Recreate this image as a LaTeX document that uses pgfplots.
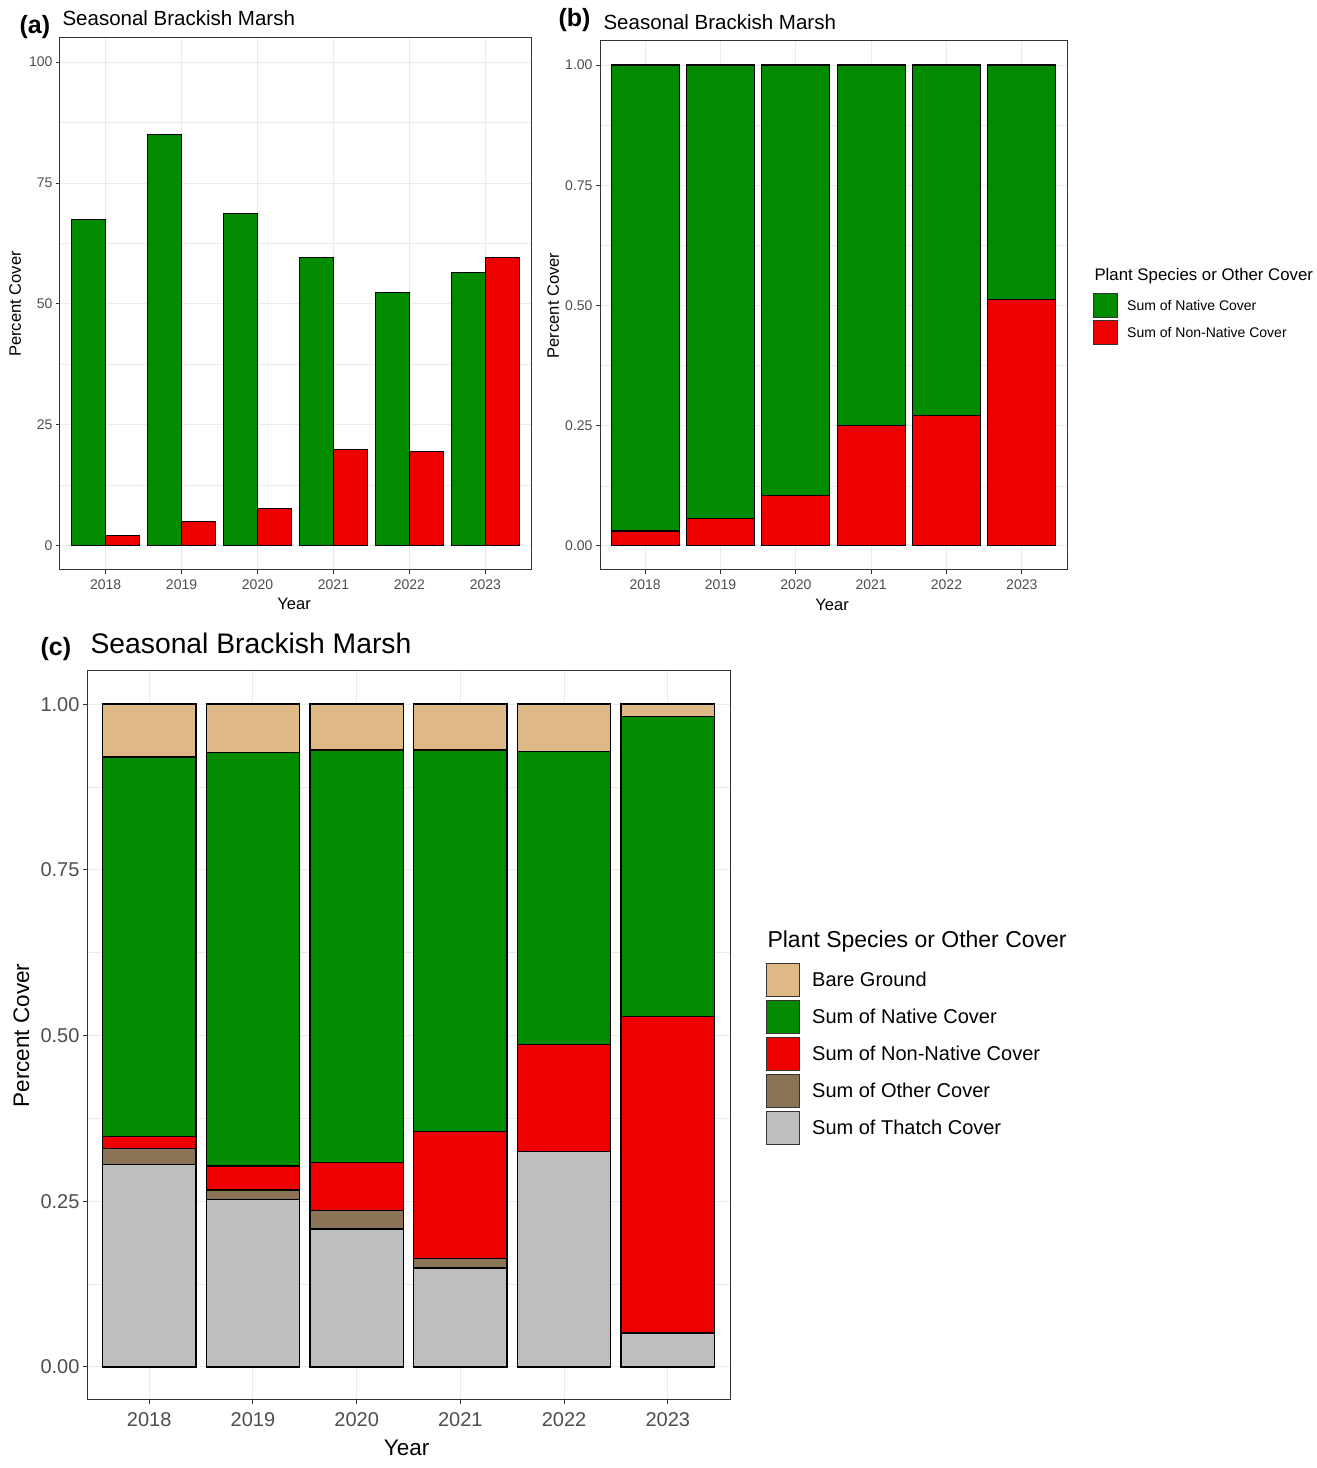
\documentclass[border=0pt]{standalone}
\usepackage{fontspec}
\setmainfont{Liberation Sans}
\usepackage{pgfplots}
\pgfplotsset{compat=1.18}
\definecolor{natgreen}{HTML}{008B00}
\definecolor{nonred}{HTML}{EE0000}
\definecolor{bare}{HTML}{DEB887}
\definecolor{othc}{HTML}{8B7355}
\definecolor{thatch}{HTML}{BEBEBE}
\definecolor{gridc}{HTML}{EBEBEB}
\definecolor{framec}{HTML}{333333}
\definecolor{ticklab}{HTML}{4D4D4D}
\newcommand{\fs}[1]{\fontsize{#1}{#1}\selectfont}

\pgfplotsset{
  ggbase/.style={
    scale only axis,
    anchor=south west,
    axis line style={framec, line width=1pt},
    xmin=0.4, xmax=6.6,
    xtick={1,2,3,4,5,6},
    xticklabels={2018,2019,2020,2021,2022,2023},
    xtick pos=bottom, ytick pos=left,
    tick align=outside,
    major tick length=4pt,
    minor tick length=0pt,
    tick style={framec, line width=1pt},
    xmajorgrids, ymajorgrids, yminorgrids,
    minor y tick num=1,
    major grid style={gridc, line width=1pt},
    minor grid style={gridc, line width=0.6pt},
    /pgf/number format/assume math mode=true,
    ticklabel style={text=ticklab},
    xlabel=Year, ylabel=Percent Cover,
  }
}

\begin{document}
\begin{tikzpicture}[x=1pt,y=1pt]
\path (0,0) rectangle (1315,1468);

% ---------------- (a) ----------------
\begin{axis}[ggbase,
  at={(60pt,898pt)}, width=471pt, height=532pt,
  ymin=-5, ymax=105,
  ytick={0,25,50,75,100},
  ybar,
  ticklabel style={font=\fs{14}},
  xticklabel style={yshift=-2pt},
  label style={font=\fs{16.5}},
  xlabel style={at={(axis description cs:0.497,0)}, anchor=base, yshift=-40pt},
  ylabel style={at={(axis description cs:-0.083,0.5)}, anchor=base, rotate=0},
]
\addplot[fill=natgreen, draw=black, line width=1.1pt, bar width=0.45, bar shift=-0.225]
  coordinates {(1,67.5) (2,85.0) (3,68.8) (4,59.7) (5,52.4) (6,56.5)};
\addplot[fill=nonred, draw=black, line width=1.1pt, bar width=0.45, bar shift=0.225]
  coordinates {(1,2.1) (2,5.0) (3,7.8) (4,20.0) (5,19.5) (6,59.7)};
\end{axis}
\node[anchor=base west, font=\fs{25}\bfseries] at (16,1434) {(a)};
\node[anchor=base west, font=\fs{20.5}] at (59,1442) {Seasonal Brackish Marsh};

% ---------------- (b) ----------------
\begin{axis}[ggbase,
  at={(600pt,898pt)}, width=467pt, height=529pt,
  ymin=-0.05, ymax=1.05,
  ytick={0,0.25,0.5,0.75,1},
  yticklabels={0.00,0.25,0.50,0.75,1.00},
  ybar stacked,
  bar width=0.9,
  ticklabel style={font=\fs{14}},
  xticklabel style={yshift=-2pt},
  label style={font=\fs{16.5}},
  xlabel style={at={(axis description cs:0.497,0)}, anchor=base, yshift=-41pt},
  ylabel style={at={(axis description cs:-0.088,0.5)}, anchor=base, rotate=0},
  reverse legend,
  legend image code/.code={\draw[#1, draw=framec, line width=1pt] (0pt,-12pt) rectangle (24pt,12pt);},
  legend style={at={(axis description cs:1.0557,0.5236)}, anchor=north west,
    draw=none, fill=none, inner sep=0pt, row sep=2pt, column sep=9pt,
    nodes={inner sep=0pt},
    font=\fs{14}},
  legend cell align=left,
]
\addplot[fill=nonred, draw=black, line width=1.1pt]
  coordinates {(1,0.031) (2,0.057) (3,0.105) (4,0.250) (5,0.271) (6,0.513)};
\addplot[fill=natgreen, draw=black, line width=1.1pt]
  coordinates {(1,0.969) (2,0.943) (3,0.895) (4,0.750) (5,0.729) (6,0.487)};
\legend{Sum of Non-Native Cover, Sum of Native Cover}
\end{axis}
\node[anchor=base west, font=\fs{25}\bfseries] at (555,1441) {(b)};
\node[anchor=base west, font=\fs{20.5}] at (600,1438) {Seasonal Brackish Marsh};
\node[anchor=base west, font=\fs{16.8}] at (1091,1187) {Plant Species or Other Cover};

% ---------------- (c) ----------------
\begin{axis}[ggbase,
  at={(87pt,68pt)}, width=643pt, height=729pt,
  ymin=-0.05, ymax=1.05,
  ytick={0,0.25,0.5,0.75,1},
  yticklabels={0.00,0.25,0.50,0.75,1.00},
  ybar stacked,
  bar width=0.9,
  ticklabel style={font=\fs{20}},
  xticklabel style={yshift=-5pt},
  label style={font=\fs{22.5}},
  xlabel style={at={(axis description cs:0.497,0)}, anchor=base, yshift=-56pt},
  ylabel style={at={(axis description cs:-0.090,0.5)}, anchor=base, rotate=0},
  reverse legend,
  legend image code/.code={\draw[#1, draw=framec, line width=1pt] (0pt,-16.5pt) rectangle (33pt,16.5pt);},
  legend style={at={(axis description cs:1.056,0.5995)}, anchor=north west,
    draw=none, fill=none, inner sep=0pt, row sep=3pt, column sep=12pt,
    nodes={inner sep=0pt},
    font=\fs{20}},
  legend cell align=left,
]
\addplot[fill=thatch, draw=black, line width=1.3pt]
  coordinates {(1,0.305) (2,0.253) (3,0.208) (4,0.149) (5,0.325) (6,0.051)};
\addplot[fill=othc, draw=black, line width=1.3pt]
  coordinates {(1,0.024) (2,0.014) (3,0.028) (4,0.014) (5,0) (6,0)};
\addplot[fill=nonred, draw=black, line width=1.3pt]
  coordinates {(1,0.019) (2,0.036) (3,0.072) (4,0.192) (5,0.161) (6,0.478)};
\addplot[fill=natgreen, draw=black, line width=1.3pt]
  coordinates {(1,0.572) (2,0.624) (3,0.623) (4,0.576) (5,0.443) (6,0.452)};
\addplot[fill=bare, draw=black, line width=1.3pt]
  coordinates {(1,0.080) (2,0.073) (3,0.069) (4,0.069) (5,0.071) (6,0.019)};
\legend{Sum of Thatch Cover, Sum of Other Cover, Sum of Non-Native Cover, Sum of Native Cover, Bare Ground}
\end{axis}
\node[anchor=base west, font=\fs{25}\bfseries] at (37,812) {(c)};
\node[anchor=base west, font=\fs{28.3}] at (87,814) {Seasonal Brackish Marsh};
\node[anchor=base west, font=\fs{23}] at (764,520) {Plant Species or Other Cover};
\end{tikzpicture}
\end{document}
